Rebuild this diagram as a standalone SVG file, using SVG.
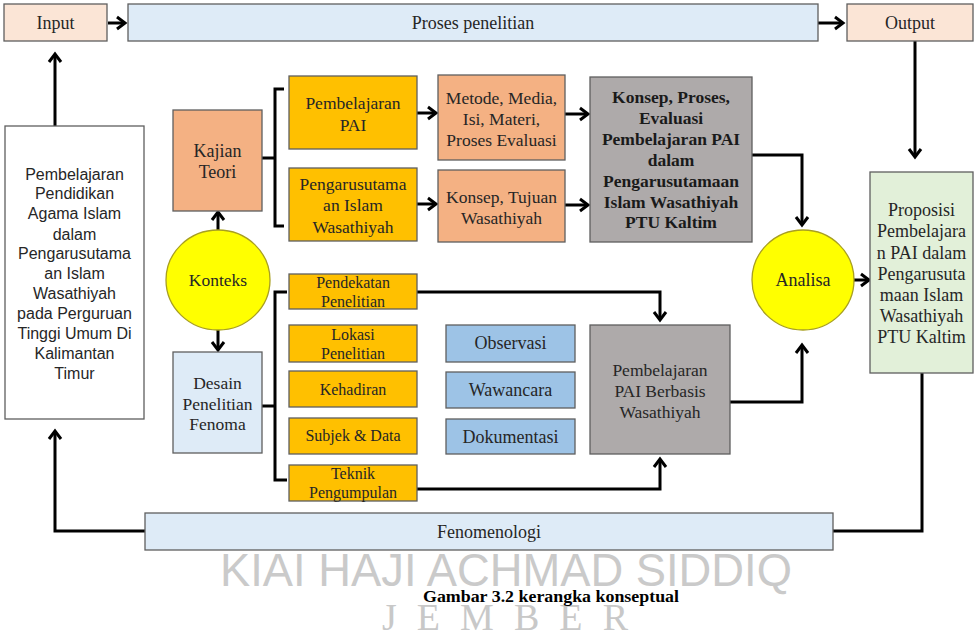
<svg xmlns="http://www.w3.org/2000/svg" width="977" height="638" viewBox="0 0 977 638">
<style>
.box{stroke:#5f5f5f;stroke-width:1.3}
.peach{fill:#FBE5D6}
.lblue{fill:#DEEBF7}
.salmon{fill:#F4B183}
.orange{fill:#FFC000}
.gray{fill:#AEAAAA}
.blue{fill:#9DC3E6}
.green{fill:#E2F0D9}
.white{fill:#FFFFFF}
.circ{fill:#FFFF00;stroke:#A89F20;stroke-width:1.3}
.t{font-family:"Liberation Serif","Times New Roman",serif;font-size:18px;fill:#262626;text-anchor:middle}
.s{font-size:17.5px}
.xs{font-size:16px}
.b{font-weight:bold;font-size:17.5px;fill:#1a1a1a}
.sans{font-family:"Liberation Sans",Arial,sans-serif;font-size:16px;fill:#262626;text-anchor:middle}
.conn{fill:none;stroke:#000;stroke-width:3}
.wm{font-family:"Liberation Sans Narrow","Liberation Sans",sans-serif;fill:#CACACA}
</style>
<defs>
<marker id="ah" markerUnits="userSpaceOnUse" markerWidth="14" markerHeight="16" viewBox="-1 -1 13 16" refX="9" refY="7" orient="auto">
<path d="M1,1 L9,7 L1,13" fill="none" stroke="#000" stroke-width="3"/>
</marker>
</defs>

<g id="watermark">
<text class="wm" x="506" y="586" font-size="46" text-anchor="middle" textLength="572" lengthAdjust="spacingAndGlyphs">KIAI HAJI ACHMAD SIDDIQ</text>
<text x="505" y="630" font-family="Liberation Serif,serif" font-size="38" fill="#C8C8C8" text-anchor="middle" textLength="246" lengthAdjust="spacing">J E M B E R</text>
</g>

<g id="connectors">
<path class="conn" d="M108,23 H125" marker-end="url(#ah)"/>
<path class="conn" d="M818,23 H843" marker-end="url(#ah)"/>
<path class="conn" d="M915,41 V157" marker-end="url(#ah)"/>
<path class="conn" d="M55,126 V54" marker-end="url(#ah)"/>
<path class="conn" d="M262,158 H275 M284,89 H275 V226 H284"/>
<path class="conn" d="M417,113 H436" marker-end="url(#ah)"/>
<path class="conn" d="M417,204 H436" marker-end="url(#ah)"/>
<path class="conn" d="M565,114 H588" marker-end="url(#ah)"/>
<path class="conn" d="M565,205 H588" marker-end="url(#ah)"/>
<path class="conn" d="M752,155 H802 V225" marker-end="url(#ah)"/>
<path class="conn" d="M853,280 H869" marker-end="url(#ah)"/>
<path class="conn" d="M218,230 V212" marker-end="url(#ah)"/>
<path class="conn" d="M218,330 V350" marker-end="url(#ah)"/>
<path class="conn" d="M262,406 H275 M287,292 H275 V480 H287"/>
<path class="conn" d="M417,292 H660 V320" marker-end="url(#ah)"/>
<path class="conn" d="M417,489 H660 V459" marker-end="url(#ah)"/>
<path class="conn" d="M730,402 H802 V345" marker-end="url(#ah)"/>
<path class="conn" d="M922,373 V531 H833"/>
<path class="conn" d="M145,531 H55 V431" marker-end="url(#ah)"/>
</g>

<g id="input"><rect class="box peach" x="4" y="4" width="103" height="37"/><text class="t" x="55.5" y="29">Input</text></g>
<g id="proses"><rect class="box lblue" x="128" y="4" width="690" height="37"/><text class="t" x="473" y="29">Proses penelitian</text></g>
<g id="output"><rect class="box peach" x="847" y="4" width="126" height="37"/><text class="t" x="910" y="29">Output</text></g>

<g id="topik"><rect class="box white" x="5" y="126" width="139" height="293"/>
<text class="sans" x="74.5" y="180">Pembelajaran</text>
<text class="sans" x="74.5" y="199">Pendidikan</text>
<text class="sans" x="74.5" y="219">Agama  Islam</text>
<text class="sans" x="74.5" y="240">dalam</text>
<text class="sans" x="74.5" y="259">Pengarusutama</text>
<text class="sans" x="74.5" y="279">an Islam</text>
<text class="sans" x="74.5" y="299">Wasathiyah</text>
<text class="sans" x="74.5" y="319">pada Perguruan</text>
<text class="sans" x="74.5" y="339">Tinggi  Umum  Di</text>
<text class="sans" x="74.5" y="359">Kalimantan</text>
<text class="sans" x="74.5" y="379">Timur</text>
</g>

<g id="kajian"><rect class="box salmon" x="173" y="110" width="89" height="101"/><text class="t" x="217.5" y="157">Kajian</text><text class="t" x="217.5" y="178">Teori</text></g>
<g id="konteks"><ellipse class="circ" cx="218" cy="280" rx="52" ry="50"/><text class="t s" x="218" y="286">Konteks</text></g>
<g id="desain"><rect class="box lblue" x="173" y="352" width="89" height="101"/><text class="t s" x="217.5" y="389">Desain</text><text class="t s" x="217.5" y="410">Penelitian</text><text class="t s" x="217.5" y="430">Fenoma</text></g>

<g id="pembelajaran-pai"><rect class="box orange" x="289" y="76" width="128" height="73"/><text class="t s" x="353" y="109">Pembelajaran</text><text class="t s" x="353" y="131">PAI</text></g>
<g id="pengarusutamaan"><rect class="box orange" x="289" y="168" width="128" height="73"/><text class="t s" x="353" y="190">Pengarusutama</text><text class="t s" x="353" y="211">an Islam</text><text class="t s" x="353" y="233">Wasathiyah</text></g>

<g id="metode"><rect class="box salmon" x="438" y="75" width="127" height="85"/><text class="t s" x="501.5" y="104">Metode, Media,</text><text class="t s" x="501.5" y="125">Isi, Materi,</text><text class="t s" x="501.5" y="146">Proses Evaluasi</text></g>
<g id="konsep-tujuan"><rect class="box salmon" x="438" y="170" width="127" height="72"/><text class="t s" x="501.5" y="203">Konsep, Tujuan</text><text class="t s" x="501.5" y="224">Wasathiyah</text></g>

<g id="konsep-proses"><rect class="box gray" x="590" y="77" width="162" height="165"/>
<text class="t b" x="671" y="103">Konsep, Proses,</text>
<text class="t b" x="671" y="124">Evaluasi</text>
<text class="t b" x="671" y="145">Pembelajaran PAI</text>
<text class="t b" x="671" y="166">dalam</text>
<text class="t b" x="671" y="187">Pengarusutamaan</text>
<text class="t b" x="671" y="208">Islam Wasathiyah</text>
<text class="t b" x="671" y="228">PTU Kaltim</text>
</g>

<g id="pendekatan"><rect class="box orange" x="289" y="274" width="128" height="35"/><text class="t xs" x="353" y="288">Pendekatan</text><text class="t xs" x="353" y="307">Penelitian</text></g>
<g id="lokasi"><rect class="box orange" x="289" y="325" width="128" height="37"/><text class="t xs" x="353" y="340">Lokasi</text><text class="t xs" x="353" y="359">Penelitian</text></g>
<g id="kehadiran"><rect class="box orange" x="289" y="371" width="128" height="36"/><text class="t xs" x="353" y="395">Kehadiran</text></g>
<g id="subjek"><rect class="box orange" x="289" y="418" width="128" height="36"/><text class="t xs" x="353" y="441">Subjek &amp; Data</text></g>
<g id="teknik"><rect class="box orange" x="289" y="465" width="128" height="36"/><text class="t xs" x="353" y="479">Teknik</text><text class="t xs" x="353" y="498">Pengumpulan</text></g>

<g id="observasi"><rect class="box blue" x="446" y="325" width="129" height="37"/><text class="t" x="510.5" y="349">Observasi</text></g>
<g id="wawancara"><rect class="box blue" x="446" y="372" width="129" height="36"/><text class="t" x="510.5" y="396">Wawancara</text></g>
<g id="dokumentasi"><rect class="box blue" x="446" y="419" width="129" height="35"/><text class="t" x="510.5" y="443">Dokumentasi</text></g>

<g id="pai-berbasis"><rect class="box gray" x="590" y="325" width="140" height="129"/><text class="t s" x="660" y="376">Pembelajaran</text><text class="t s" x="660" y="397">PAI Berbasis</text><text class="t s" x="660" y="418">Wasathiyah</text></g>

<g id="analisa"><ellipse class="circ" cx="803" cy="280" rx="51" ry="50"/><text class="t" x="803" y="286">Analisa</text></g>

<g id="proposisi"><rect class="box green" x="870" y="172" width="103" height="201"/>
<text class="t" x="921.5" y="216">Proposisi</text>
<text class="t" x="921.5" y="237">Pembelajara</text>
<text class="t" x="921.5" y="259">n PAI dalam</text>
<text class="t" x="921.5" y="280">Pengarusuta</text>
<text class="t" x="921.5" y="301">maan Islam</text>
<text class="t" x="921.5" y="322">Wasathiyah</text>
<text class="t" x="921.5" y="343">PTU Kaltim</text>
</g>

<g id="fenomenologi"><rect class="box lblue" x="145" y="513" width="688" height="37"/><text class="t" x="489" y="538">Fenomenologi</text></g>

<g id="caption"><text x="551" y="602" font-family="Liberation Serif,serif" font-weight="bold" font-size="17" fill="#000" text-anchor="middle" textLength="256" lengthAdjust="spacingAndGlyphs">Gambar 3.2 kerangka konseptual</text></g>
</svg>
